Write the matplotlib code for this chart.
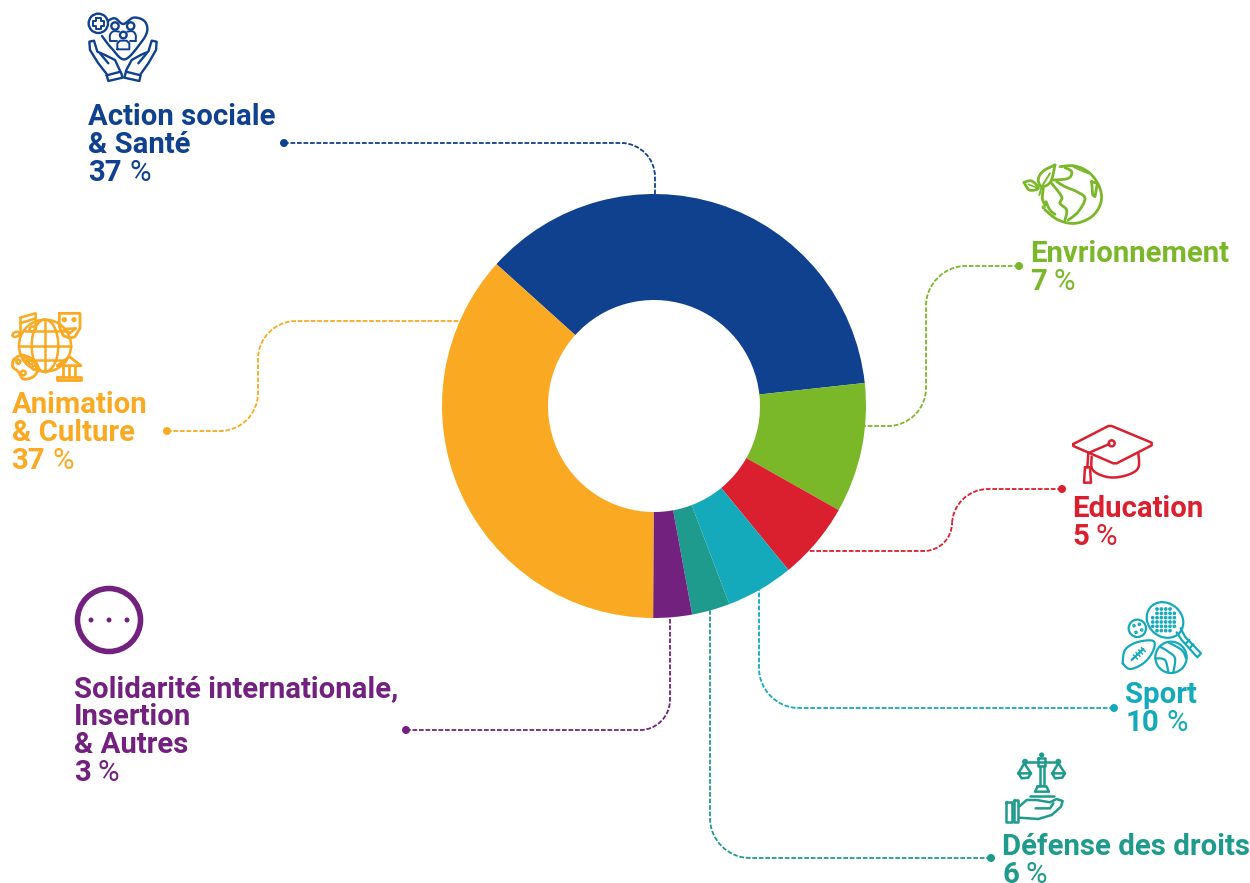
import numpy as np
import matplotlib
matplotlib.use("Agg")
import matplotlib.pyplot as plt
from matplotlib.path import Path
from matplotlib.patches import PathPatch, Circle, Ellipse

plt.rcParams['font.family'] = ['Roboto', 'DejaVu Sans']

# slices, clockwise from the upper left
categories = ["Action sociale & Santé", "Envrionnement", "Education", "Sport",
              "Défense des droits", "Solidarité internationale, Insertion & Autres",
              "Animation & Culture"]
slice_share = [36.6, 9.9, 5.9, 5.15, 2.9, 2.95, 36.6]
printed_pct = [37, 7, 5, 10, 6, 3, 37]
colors = ["#0F418F", "#7AB829", "#DA202E", "#15AABB", "#1F9B8E", "#72217F", "#F9AA22"]
BLUE, GREEN, RED, TEAL, DTEAL, PURPLE, ORANGE = colors

W, H = 1250, 883
fig = plt.figure(figsize=(W / 100, H / 100), dpi=100, facecolor="white")

# pixel canvas for labels, leaders and icons
ax = fig.add_axes([0, 0, 1, 1])
ax.set_xlim(0, W)
ax.set_ylim(H, 0)
ax.axis("off")

cx, cy, R = 654, 406, 212
pie_ax = fig.add_axes([(cx - R) / W, 1 - (cy + R) / H, 2 * R / W, 2 * R / H])
pie_ax.pie(slice_share, colors=colors, startangle=138, counterclock=False, radius=1,
           wedgeprops=dict(width=0.5, linewidth=0))
pie_ax.set_xlim(-1, 1)
pie_ax.set_ylim(-1, 1)


def leader(pts, color):
    # pts: dot first, corners given as (x, y, radius)
    verts = []
    codes = []
    for i, p in enumerate(pts):
        if len(p) == 3:
            x, y, r = p
            corner = np.array([x, y], float)
            d0 = np.array(pts[i - 1][:2], float) - corner
            d1 = np.array(pts[i + 1][:2], float) - corner
            a = corner + d0 / np.hypot(*d0) * r
            b = corner + d1 / np.hypot(*d1) * r
            verts += [tuple(a), tuple(a + (corner - a) * 0.55), tuple(b + (corner - b) * 0.55), tuple(b)]
            codes += [Path.LINETO, Path.CURVE4, Path.CURVE4, Path.CURVE4]
        else:
            verts.append(p)
            codes.append(Path.MOVETO if i == 0 else Path.LINETO)
    ax.add_patch(PathPatch(Path(verts, codes), fill=False, ec=color, lw=1.3,
                           ls=(0, (2.6, 1.0))))
    ax.add_patch(Circle(pts[0], 4, fc=color, ec="none"))


leader([(284, 143), (655, 143, 34), (655, 195)], BLUE)
leader([(1019, 266), (926, 266, 40), (926, 426, 38), (864, 426)], GREEN)
leader([(1062, 489), (952, 489, 36), (952, 551, 28), (806, 551)], RED)
leader([(1114, 708), (759, 708, 40), (759, 590)], TEAL)
leader([(991, 858), (710, 858, 40), (710, 607)], DTEAL)
leader([(406, 730), (670, 730, 30), (670, 617)], PURPLE)
leader([(167, 431), (258, 431, 38), (258, 321, 38), (460, 321)], ORANGE)


def label(x, y, lines, pct, color):
    size = 21.15
    for k, line in enumerate(lines):
        ax.text(x, y + 28 * k, line, color=color, fontsize=size, fontweight="bold",
                va="baseline", ha="left")
    yp = y + 28 * len(lines)
    t = ax.text(x, yp, str(pct), color=color, fontsize=size, fontweight="bold",
                va="baseline", ha="left")
    w = t.get_window_extent(fig.canvas.get_renderer()).width
    ax.text(x + w + 7, yp, "%", color=color, fontsize=size, fontweight="normal",
            va="baseline", ha="left")


label(88.5, 125, ["Action sociale", "& Santé"], printed_pct[0], BLUE)
label(1030, 262, ["Envrionnement"], printed_pct[1], GREEN)
label(1072, 517, ["Education"], printed_pct[2], RED)
label(1125.5, 703, ["Sport"], printed_pct[3], TEAL)
label(1002, 855, ["Défense des droits"], printed_pct[4], DTEAL)
label(74, 697, ["Solidarité internationale,", "Insertion", "& Autres"], printed_pct[5], PURPLE)
label(11.5, 413, ["Animation", "& Culture"], printed_pct[6], ORANGE)


def smooth(pts, n=10):
    p = np.array(pts, float)
    p = np.vstack([p[0], p, p[-1]])
    out = []
    for i in range(1, len(p) - 2):
        for t in np.linspace(0, 1, n, endpoint=False):
            out.append(0.5 * (2 * p[i] + (p[i + 1] - p[i - 1]) * t
                              + (2 * p[i - 1] - 5 * p[i] + 4 * p[i + 1] - p[i + 2]) * t ** 2
                              + (3 * p[i] - p[i - 1] - 3 * p[i + 1] + p[i + 2]) * t ** 3))
    out.append(p[-1])
    return np.array(out)


class Icon:
    # coordinates in the 3x crop of the icon, ox/oy is the crop corner
    def __init__(self, ox, oy, color, lw=1.7):
        self.ox, self.oy, self.color, self.lw = ox, oy, color, lw

    def line(self, pts, curved=False, lw=None):
        p = smooth(pts) if curved else np.array(pts, float)
        ax.plot(self.ox + p[:, 0] / 3, self.oy + p[:, 1] / 3, color=self.color,
                lw=lw or self.lw, solid_capstyle="round", solid_joinstyle="round")

    def circle(self, x, y, r, lw=None, fill=False):
        ax.add_patch(Circle((self.ox + x / 3, self.oy + y / 3), r / 3, fill=fill,
                            fc=self.color if fill else "none", ec=self.color,
                            lw=lw or self.lw))

    def ellipse(self, x, y, rx, ry, angle=0, lw=None):
        # y axis runs downwards here, so the angle turns clockwise on screen
        ax.add_patch(Ellipse((self.ox + x / 3, self.oy + y / 3), 2 * rx / 3, 2 * ry / 3,
                             angle=angle, fill=False, ec=self.color, lw=lw or self.lw))


# Action sociale
i = Icon(70, 0, BLUE)
i.circle(85, 70, 29)
i.line([(78, 54), (92, 54), (92, 64), (102, 64), (102, 77), (92, 77), (92, 87), (78, 87),
        (78, 77), (68, 77), (68, 64), (78, 64), (78, 54)], lw=1.4)
i.line([(114, 62), (135, 55), (160, 72), (190, 53), (222, 62), (232, 90), (215, 125), (165, 178),
        (125, 145), (96, 108)], curved=True)
i.circle(135, 78, 11)
i.circle(182, 78, 11)
i.circle(160, 105, 10)
i.line([(120, 122), (120, 105), (130, 94), (147, 95)], curved=True, lw=1.4)
i.line([(197, 122), (197, 105), (188, 94), (172, 95)], curved=True, lw=1.4)
i.line([(120, 122), (140, 122)], lw=1.4)
i.line([(180, 122), (197, 122)], lw=1.4)
i.line([(142, 148), (142, 130), (150, 122), (170, 122), (178, 130), (178, 148), (142, 148)], lw=1.4)
i.line([(110, 222), (85, 190), (60, 150), (58, 125), (72, 122), (82, 155), (105, 165), (135, 180),
        (150, 212)])
i.line([(90, 160), (115, 190)])
i.line([(110, 226), (152, 215), (158, 233), (115, 243), (110, 226)])
i.line([(212, 222), (235, 190), (258, 150), (260, 125), (245, 122), (235, 155), (212, 165),
        (185, 180), (168, 212)])
i.line([(230, 160), (205, 190)])
i.line([(168, 215), (212, 226), (208, 243), (163, 233), (168, 215)])

# Environnement
i = Icon(1010, 155, GREEN, lw=2.0)
i.line([(150, 35), (195, 33), (240, 55), (270, 100), (272, 145), (245, 185), (195, 205), (145, 195),
        (105, 165)], curved=True)
i.line([(100, 100), (97, 130), (105, 150)], curved=True)
i.line([(135, 30), (100, 48), (85, 72), (95, 95), (122, 80), (135, 30)], curved=True)
i.line([(120, 55), (95, 95), (88, 120)], lw=1.4)
i.line([(42, 82), (65, 78), (85, 100), (58, 105), (42, 82)], curved=True)
i.line([(55, 88), (85, 100)], lw=1.2)
i.line([(125, 85), (155, 125), (150, 145), (170, 165), (165, 195)], curved=True)
i.line([(130, 75), (175, 70), (185, 50), (165, 38)], curved=True)
i.line([(175, 195), (205, 170), (225, 130), (200, 110), (165, 95), (140, 80)], curved=True)
i.line([(245, 80), (262, 85), (255, 125), (248, 120), (245, 80)])
i.line([(190, 35), (210, 45), (235, 55)], lw=1.4)
i.line([(108, 140), (120, 165), (135, 178)], curved=True)
i.circle(101, 157, 2, fill=True)

# Animation & Culture
i = Icon(0, 305, ORANGE, lw=1.8)
i.circle(135, 122, 78)
i.ellipse(135, 122, 40, 78)
i.line([(135, 44), (135, 200)])
i.line([(57, 122), (213, 122)])
i.line([(75, 78), (195, 78)])
i.line([(75, 165), (195, 165)])
i.line([(60, 38), (107, 25), (107, 65)])
i.line([(60, 55), (107, 40)])
i.line([(60, 38), (60, 85)])
i.ellipse(48, 88, 11, 7, angle=-20)
i.ellipse(98, 72, 10, 7, angle=-20)
i.line([(178, 25), (240, 25), (240, 70), (225, 95), (210, 100), (190, 92), (178, 65), (178, 25)],
       lw=2.0)
i.circle(193, 44, 4)
i.circle(222, 44, 4)
i.line([(192, 72), (210, 84), (228, 70), (192, 72)])
i.line([(40, 165), (65, 150), (100, 165), (115, 190), (100, 215), (70, 222), (55, 200), (38, 185),
        (40, 165)], curved=True, lw=2.0)
for x, y in [(55, 170), (76, 163), (92, 172), (103, 188)]:
    i.circle(x, y, 6)
i.circle(70, 204, 7)
i.line([(172, 182), (208, 155), (243, 182), (172, 182)], lw=2.0)
for x in [190, 208, 226]:
    i.line([(x, 185), (x, 212)], lw=2.0)
i.line([(172, 215), (243, 215), (243, 225), (172, 225), (172, 215)], lw=2.0)

# Education
i = Icon(1060, 420, RED, lw=1.8)
i.line([(40, 72), (145, 18), (155, 18), (275, 68), (275, 76), (170, 130), (160, 130), (40, 78),
        (40, 72)])
i.line([(90, 97), (148, 72)])
i.circle(155, 70, 9)
i.line([(85, 98), (82, 142)])
i.line([(95, 110), (97, 148), (130, 168), (170, 172), (215, 160), (236, 140), (235, 100)],
       curved=True)
i.line([(75, 142), (90, 142), (93, 188), (72, 188), (75, 142)])

# Sport
i = Icon(1110, 595, TEAL, lw=1.6)
i.ellipse(165, 75, 58, 50, angle=40)
for gx in np.arange(128, 206, 13):
    for gy in np.arange(42, 114, 13):
        if (gx - 165) ** 2 + (gy - 75) ** 2 < 42 ** 2:
            i.circle(gx, gy, 4, lw=0.7, fill=True)
i.line([(200, 112), (215, 135), (262, 187), (273, 175), (225, 125), (212, 100)])
i.line([(228, 145), (238, 135)])
i.line([(240, 158), (250, 148)])
i.circle(82, 100, 26)
for x, y in [(72, 92), (88, 88), (95, 105), (78, 112)]:
    i.circle(x, y, 2, fill=True)
i.line([(38, 205), (45, 165), (80, 142), (130, 138), (128, 170), (100, 205), (60, 222), (38, 205)],
       curved=True)
i.line([(65, 195), (100, 162)])
for x, y in [(70, 180), (78, 172), (86, 165), (94, 158)]:
    i.line([(x, y), (x + 12, y + 12)], lw=1.1)
i.circle(183, 187, 47)
i.line([(150, 155), (175, 170), (195, 190), (190, 232)], curved=True)
i.line([(137, 190), (165, 195), (175, 232)], curved=True)
i.line([(175, 142), (215, 165), (228, 190)], curved=True)

# Défense des droits
i = Icon(995, 745, DTEAL, lw=1.8)
i.line([(90, 52), (190, 52)])
i.circle(90, 50, 5)
i.circle(190, 50, 5)
i.line([(130, 40), (150, 40), (150, 62), (130, 62), (130, 40)])
i.circle(140, 30, 4)
i.line([(136, 62), (136, 122)])
i.line([(146, 62), (146, 122)])
i.line([(128, 124), (154, 124), (162, 140), (120, 140), (128, 124)])
i.line([(106, 152), (176, 152)])
i.line([(70, 85), (88, 55), (108, 85)])
i.line([(70, 85), (108, 85), (100, 98), (80, 100), (70, 85)])
i.line([(172, 85), (190, 55), (210, 85)])
i.line([(172, 85), (210, 85), (202, 98), (180, 100), (172, 85)])
i.line([(33, 172), (52, 172), (52, 230), (33, 230), (33, 172)])
i.line([(57, 165), (70, 165), (70, 230), (57, 230), (57, 165)])
i.line([(72, 185), (95, 165), (125, 165), (165, 172), (185, 162), (203, 168), (198, 185), (170, 210),
        (130, 222), (72, 218)])
i.line([(122, 190), (165, 190), (175, 175)])

# other causes
ax.add_patch(Circle((109, 620), 31.5, fill=False, ec=PURPLE, lw=4.0))
for x in [91, 109, 127]:
    ax.add_patch(Circle((x, 620), 2.5, fc=PURPLE, ec="none"))

fig.savefig("out.png", dpi=100, facecolor="white")
